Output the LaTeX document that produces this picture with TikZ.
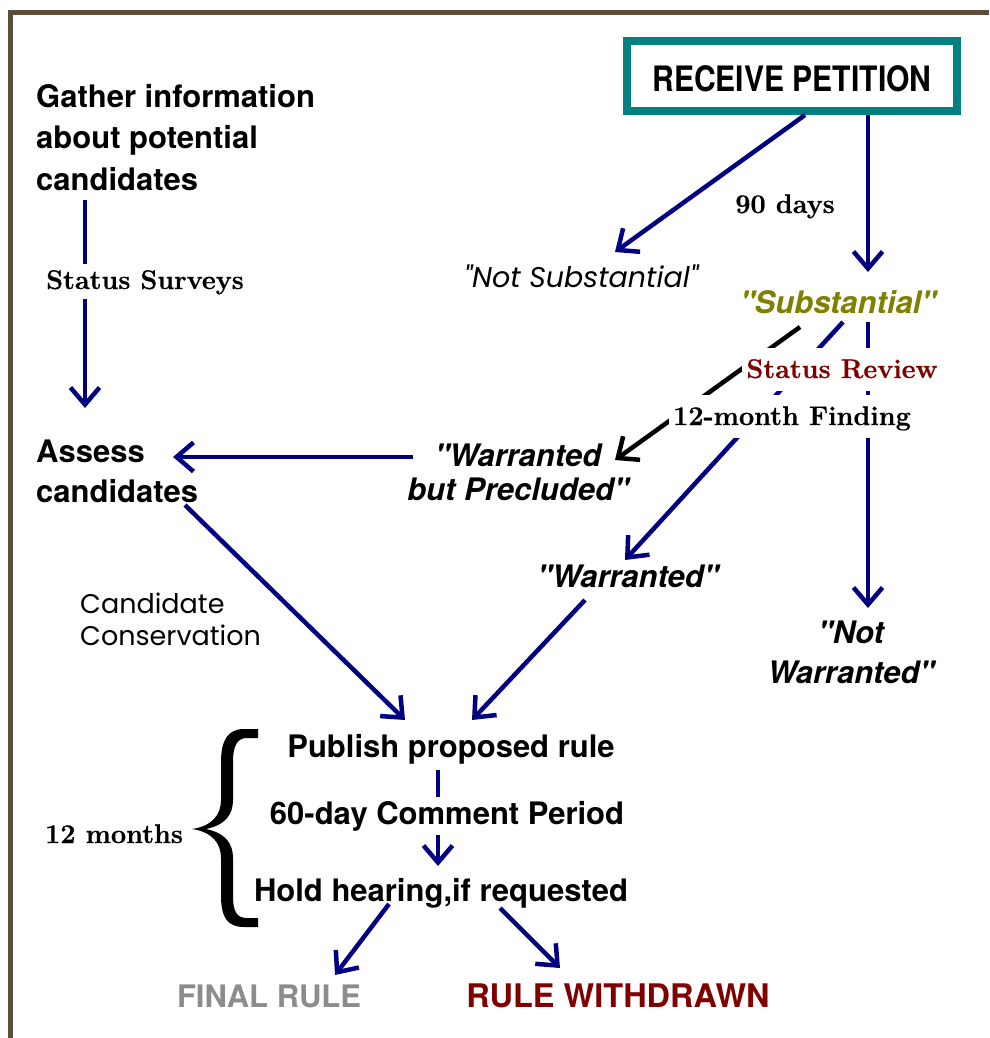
\documentclass[tikz,border=0pt]{standalone}
\usepackage{fontspec}
\usetikzlibrary{arrows.meta,calc}
\newfontfamily\hv{TeX Gyre Heros}
\newfontfamily\hvc[FakeStretch=0.86]{TeX Gyre Heros}
\newfontfamily\geo{Poppins}
\newfontfamily\srf[FakeBold=0.7]{Latin Modern Roman}
\definecolor{navy}{RGB}{0,0,128}
\definecolor{tealbox}{RGB}{0,128,128}
\definecolor{brownb}{RGB}{94,76,58}
\definecolor{olivet}{RGB}{128,128,0}
\definecolor{darkred}{RGB}{128,0,0}
\definecolor{grayt}{RGB}{140,140,140}
\tikzset{
  hb/.style={font=\hv\bfseries\fontsize{31}{40}\selectfont, inner sep=0pt},
  hbi/.style={font=\hv\bfseries\itshape\fontsize{31}{40}\selectfont, inner sep=0pt},
  sr/.style={font=\srf\bfseries\fontsize{27}{32}\selectfont, inner sep=0pt},
  geol/.style={font=\geo\fontsize{27}{32}\selectfont, inner sep=0pt},
  arr/.style={draw=navy, line width=4.5pt, -{Straight Barb[length=17pt,width=29pt]}},
  blackarr/.style={draw=black, line width=4.5pt, -{Straight Barb[length=17pt,width=29pt]}},
  ln/.style={draw=navy, line width=4.5pt},
  cover/.style={fill=white, inner xsep=4pt, inner ysep=7pt, text height=23pt, text depth=6pt},
}
\begin{document}
\begin{tikzpicture}[x=1pt,y=-1pt]
\useasboundingbox (0,0) rectangle (989,1038);
\fill[white] (0,0) rectangle (989,1038);
\draw[brownb, line width=5pt] (10.5,1038) -- (10.5,12.5) -- (989,12.5);

% main nodes
\node[draw=tealbox, line width=8pt, minimum width=330pt, minimum height=70pt, inner sep=0pt,
      text height=31pt, text depth=0pt,
      font=\hvc\bfseries\fontsize{35}{40}\selectfont] (rp) at (792,76) {RECEIVE PETITION};
\node[hb, align=left, anchor=west, font=\hv\bfseries\fontsize{31}{41.5}\selectfont] (gather) at (36,137.4)
  {Gather information\\about potential\\candidates};
\node[hb, align=left, anchor=west] (assess) at (36,471) {Assess\\candidates};
\node[hbi, align=center, font=\hv\bfseries\itshape\fontsize{31}{34}\selectfont] (wbp) at (518,472)
  {"Warranted\\but Precluded"};
\node[hbi, anchor=base] (warr) at (628,587) {"Warranted"};
\node[hbi, align=center] (notwarr) at (851,652) {"Not\\Warranted"};
\node[hbi, anchor=base, text=olivet] (subst) at (838,313) {"Substantial"};
\node[geol, anchor=base, font=\geo\itshape\fontsize{28.5}{32}\selectfont] (notsub) at (581,287) {"Not Substantial"};
\node[geol, align=left, anchor=west] (cand) at (80,619.5) {Candidate\\Conservation};
\node[hb, anchor=base] (publish) at (451,757) {Publish proposed rule};
\node[hb, anchor=base] (cp) at (447,824) {60-day Comment Period};
\node[hb, anchor=base] (hold) at (441,901) {Hold hearing,if requested};
\node[hb, anchor=base, text=grayt] (final) at (269,1007) {FINAL RULE};
\node[hb, anchor=base, text=darkred, font=\hv\bfseries\fontsize{32.5}{40}\selectfont] (withdrawn) at (618,1007) {RULE WITHDRAWN};
\node[sr, anchor=base] (ninety) at (785,213) {90 days};
\node[sr, anchor=base] (months) at (114,843) {12 months};

% connectors
\draw[arr] ($(rp.south)+(13,0)$) -- ($(notsub.base)+(34,-35)$);
\draw[arr] ($(rp.south)+(76,0)$) -- ($(subst.base)+(30,-41)$);
\draw[blackarr] ($(subst.base)+(-38,14)$) -- ($(wbp.center)+(97,-12)$);
\draw[arr] ($(subst.base)+(5,9)$) -- ($(warr.base)+(-3,-27)$);
\draw[arr] ($(subst.base)+(30,9)$) -- ($(notwarr.center)+(17,-44)$);
\draw[arr] ($(wbp.center)+(-105,-15)$) -- ($(assess.west)+(137,-14)$);
\draw[arr] ($(assess.west)+(149,34)$) -- ($(publish.base)+(-46,-37)$);
\draw[arr] ($(warr.base)+(-43,13)$) -- ($(publish.base)+(21,-37)$);
\draw[arr] ($(gather.west)+(49,62.6)$) -- ($(assess.west)+(49,-63)$);
\draw[ln] ($(publish.base)+(-13,13)$) -- ($(cp.base)+(-9,-27)$);
\draw[arr] ($(cp.base)+(-9,11)$) -- ($(hold.base)+(-3,-35)$);
\draw[arr] ($(hold.base)+(-52,3)$) -- ($(final.base)+(66,-32)$);
\draw[arr] ($(hold.base)+(59,7)$) -- ($(withdrawn.base)+(-58,-39)$);

% labels covering the lines
\node[sr, cover, anchor=base, text height=20pt, text depth=5pt, inner ysep=5pt] (survey) at (145,289) {Status Surveys};
\node[sr, cover, anchor=base, text=darkred] (review) at (842,378) {Status Review};
\node[sr, cover, anchor=base] (finding) at (792,425) {12-month Finding};

% brace (filled glyph-like shape)
\fill[black] (258,729) -- (244,729) .. controls (228,729) and (221,740) .. (221,762)
  -- (221,800) .. controls (221,815) and (212,826) .. (192,829)
  .. controls (212,832) and (221,843) .. (221,858)
  -- (221,896) .. controls (221,918) and (228,927) .. (244,927) -- (258,927)
  -- (258,918) -- (247,918) .. controls (237,918) and (233,912) .. (233,896)
  -- (233,858) .. controls (233,843) and (225,833) .. (206,829)
  .. controls (225,825) and (233,815) .. (233,800)
  -- (233,762) .. controls (233,746) and (237,738) .. (247,738) -- (258,738) -- cycle;
\end{tikzpicture}
\end{document}
